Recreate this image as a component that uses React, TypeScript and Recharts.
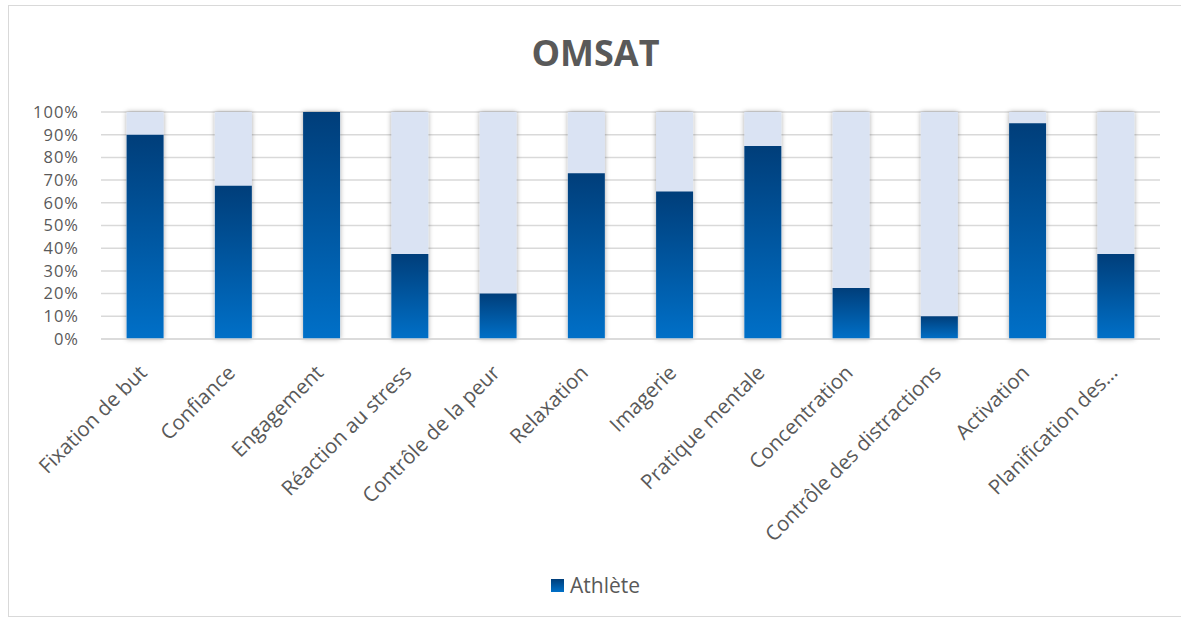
import { BarChart, Bar, XAxis, YAxis, CartesianGrid, Legend } from 'recharts'

const categories = [
  'Fixation de but',
  'Confiance',
  'Engagement',
  'Réaction au stress',
  'Contrôle de la peur',
  'Relaxation',
  'Imagerie',
  'Pratique mentale',
  'Concentration',
  'Contrôle des distractions',
  'Activation',
  'Planification des…',
]

const athlete = [90, 67.5, 100, 37.5, 20, 73, 65, 85, 22.5, 10, 95, 37.5]

const yTicks = [0, 10, 20, 30, 40, 50, 60, 70, 80, 90, 100]

const data = categories.map((name, i) => ({ name, athlete: athlete[i] }))

const FONT = '"Open Sans", "Noto Sans", sans-serif'
const GREY = '#595959'

const CategoryTick = (props: any) => {
  const { x, y, payload } = props
  return (
    <g transform={`translate(${x + 3},${y + 27})`}>
      <text
        textAnchor="end"
        transform="rotate(-45)"
        fill={GREY}
        fontSize={20.5}
        fontFamily={FONT}
      >
        {payload.value}
      </text>
    </g>
  )
}

const LegendContent = () => (
  <div style={{ display: 'flex', justifyContent: 'center', alignItems: 'center', fontFamily: FONT, fontSize: 21, color: GREY, paddingLeft: 22, marginTop: -3 }}>
    <svg width={13} height={13} style={{ marginRight: 6 }}>
      <defs>
        <linearGradient id="legendGrad" x1="0" y1="0" x2="0" y2="1">
          <stop offset="0%" stopColor="#003E7A" />
          <stop offset="100%" stopColor="#0070C8" />
        </linearGradient>
      </defs>
      <rect width={13} height={13} fill="url(#legendGrad)" />
    </svg>
    Athlète
  </div>
)

const App = () => {
  return (
    <div
      style={{
        position: 'absolute',
        left: 8,
        top: 5,
        width: 1173,
        height: 610,
        border: '1px solid #d9d9d9',
        background: '#fff',
      }}
    >
      <div
        style={{
          position: 'absolute',
          top: 22,
          width: '100%',
          textAlign: 'center',
          fontFamily: FONT,
          fontWeight: 'bold',
          fontSize: 36,
          lineHeight: '50px',
          color: GREY,
        }}
      >
        OMSAT
      </div>
      <BarChart
        width={1173}
        height={610}
        data={data}
        margin={{ top: 106, right: 22, left: 0, bottom: 12 }}
        barCategoryGap="29%"
      >
        <defs>
          <linearGradient id="athleteGrad" x1="0" y1="0" x2="0" y2="1">
            <stop offset="0%" stopColor="#003E7A" />
            <stop offset="100%" stopColor="#0070C8" />
          </linearGradient>
          <filter id="barShadow" x="-30%" y="-5%" width="160%" height="110%">
            <feDropShadow dx="0" dy="0" stdDeviation="2.5" floodColor="#000" floodOpacity="0.35" />
          </filter>
        </defs>
        <CartesianGrid vertical={false} stroke="#d9d9d9" strokeWidth={1.5} />
        <XAxis
          dataKey="name"
          interval={0}
          height={235}
          tick={<CategoryTick />}
          tickLine={false}
          axisLine={{ stroke: '#d9d9d9', strokeWidth: 1.5 }}
        />
        <YAxis
          domain={[0, 100]}
          ticks={yTicks}
          interval={0}
          tickFormatter={(v: number) => `${v}%`}
          width={92}
          tickSize={0}
          tickMargin={22}
          axisLine={false}
          tickLine={false}
          tick={{ fill: GREY, fontSize: 16.5, fontFamily: FONT, letterSpacing: 1 }}
        />
        <Legend verticalAlign="bottom" height={30} content={<LegendContent />} />
        <Bar
          dataKey="athlete"
          name="Athlète"
          fill="url(#athleteGrad)"
          background={{ fill: '#DAE3F3', filter: 'url(#barShadow)' } as any}
          isAnimationActive={false}
        />
      </BarChart>
    </div>
  )
}

export default App
